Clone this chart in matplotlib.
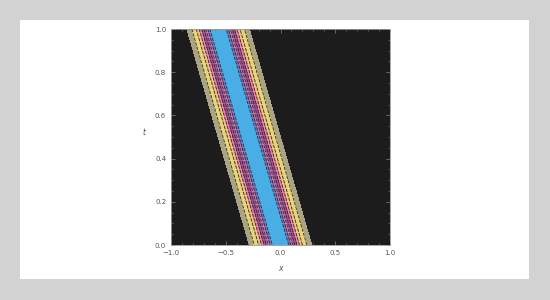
import numpy as np
import matplotlib
matplotlib.use("Agg")
import matplotlib.pyplot as plt
from matplotlib.patches import Rectangle

# Soliton-like profile parameters
speed = 0.57          # band centre moves as x = -speed * t
width = 0.15          # sech^2 width
x_range = [-1.0, 1.0]
t_range = [0.0, 1.0]
levels = [-0.01, 0.086, 0.15, 0.243, 0.33, 0.42, 0.51, 0.60, 0.69, 0.786, 1.01]
colors = ["#1c1c1c", "#aaa384", "#e8d57a", "#f0c47a", "#e68aa8",
          "#c0468c", "#9060ac", "#e07aa6", "#8a6cc4", "#4aaee6"]
xticks = [-1.0, -0.5, 0.0, 0.5, 1.0]
xtick_labels = ["\u22121.0", "\u22120.5", "0.0", "0.5", "1.0"]
yticks = [0.0, 0.2, 0.4, 0.6, 0.8, 1.0]
ytick_labels = ["0.0", "0.2", "0.4", "0.6", "0.8", "1.0"]

x = np.linspace(x_range[0], x_range[1], 800)
t = np.linspace(t_range[0], t_range[1], 400)
X, T = np.meshgrid(x, t)
U = 1.0 / np.cosh((X + speed * T) / width) ** 2

fig = plt.figure(figsize=(5.5, 3.0), dpi=100)
fig.patch.set_facecolor("#d2d2d2")
fig.patches.append(Rectangle((20 / 550, 1 - 279 / 300), 509 / 550, 259 / 300,
                             transform=fig.transFigure, facecolor="white",
                             edgecolor="none", zorder=-5))

ax = fig.add_axes([171 / 550, 1 - 245 / 300, 219 / 550, 216 / 300])
ax.set_zorder(2)
ax.contourf(X, T, U, levels=levels, colors=colors)
ax.contour(X, T, U, levels=levels[2:-1], colors="#2a2a2a", linewidths=0.6,
           linestyles=[(0, (4, 1.5))])

ax.set_xlim(x_range)
ax.set_ylim(t_range)
ax.set_xticks(xticks)
ax.set_xticklabels(xtick_labels)
ax.set_yticks(yticks)
ax.set_yticklabels(ytick_labels)
ax.minorticks_on()
ax.tick_params(which="both", direction="in", top=True, right=True,
               color="#888888", labelsize=5, labelcolor="#555555")
ax.tick_params(which="major", length=3, width=0.5)
ax.tick_params(which="minor", length=1.5, width=0.4)
for s in ax.spines.values():
    s.set_color("#999999")
    s.set_linewidth(0.6)
ax.set_xlabel("x", fontsize=5.5, color="#555555", style="italic", labelpad=6)
ax.set_ylabel("t", fontsize=5.5, color="#555555", style="italic", labelpad=8, rotation=0)

fig.savefig("out.png", dpi=100, facecolor=fig.get_facecolor())
